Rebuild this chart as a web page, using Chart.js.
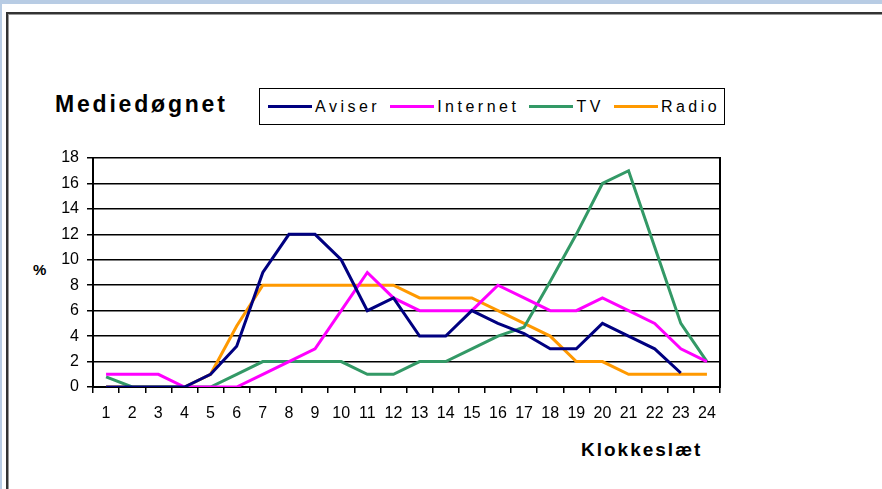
<!DOCTYPE html>
<html lang="da">
<head>
    <meta charset="UTF-8">
    <title>Mediedøgnet</title>
    <script src="https://cdn.jsdelivr.net/npm/chart.js"></script>
    <style>
        body { margin: 0; width: 882px; height: 489px; overflow: hidden; background: #fff; font-family: "Liberation Sans", Arial, sans-serif; position: relative; }
        .band-top { position: absolute; left: 0; top: 0; width: 882px; height: 4px; background: #b8cce4; }
        .band-left { position: absolute; left: 0; top: 0; width: 2px; height: 489px; background: #b8cce4; }
        .frame { position: absolute; left: 6px; top: 12px; width: 900px; height: 500px; border-top: 2px solid #333; border-left: 2px solid #333; box-shadow: inset 1px 1px 0 #999; }
        #chart { position: absolute; left: 0; top: 0; }
        .title { position: absolute; left: 55px; top: 91px; font-size: 23px; font-weight: bold; letter-spacing: 2.8px; }
        .legend { position: absolute; left: 259px; top: 88px; width: 466px; height: 37px; border: 1.5px solid #000; box-sizing: border-box; display: flex; align-items: center; padding-left: 8px; }
        .legend span.item { display: flex; align-items: center; margin-right: 10px; font-size: 16px; letter-spacing: 3.5px; }
        .legend span.swatch { display: inline-block; width: 44px; height: 3px; margin-right: 3px; }
        .ylab { position: absolute; left: 33px; top: 261px; font-size: 15px; font-weight: bold; }
        .xlab { position: absolute; left: 581px; top: 439px; font-size: 19px; font-weight: bold; letter-spacing: 2px; }
    </style>
</head>
<body>
    <div class="band-top"></div>
    <div class="band-left"></div>
    <div class="frame"></div>
    <div class="title">Mediedøgnet</div>
    <div class="legend" id="legend"></div>
    <div class="ylab">%</div>
    <div class="xlab">Klokkeslæt</div>
    <canvas id="chart" width="882" height="489"></canvas>

    <script>
        // hours of the day
        const hours = ['1','2','3','4','5','6','7','8','9','10','11','12','13','14','15','16','17','18','19','20','21','22','23','24'];
        const seriesNames = ['Aviser', 'Internet', 'TV', 'Radio'];
        const seriesColors = ['#000080', '#ff00ff', '#339966', '#ff9900'];

        const aviser   = [0, 0, 0, 0, 1, 3.2, 9, 12, 12, 10, 6, 7, 4, 4, 6, 5, 4.2, 3, 3, 5, 4, 3, 1.1, null];
        const internet = [1, 1, 1, 0, 0, 0, 1, 2, 3, 6, 9, 7, 6, 6, 6, 8, 7, 6, 6, 7, 6, 5, 3, 2];
        const tv       = [0.8, 0, 0, 0, 0, 1, 2, 2, 2, 2, 1, 1, 2, 2, 3, 4, 4.7, 8.3, 12, 16, 17, 11, 5, 2];
        const radio    = [0, 0, 0, 0, 1, 4.8, 8, 8, 8, 8, 8, 8, 7, 7, 7, 6, 5, 4, 2, 2, 1, 1, 1, 1];
        const seriesValues = [aviser, internet, tv, radio];

        const yTicks = [0, 2, 4, 6, 8, 10, 12, 14, 16, 18];

        // legend in html
        const legendEl = document.getElementById('legend');
        seriesNames.forEach((name, i) => {
            const item = document.createElement('span');
            item.className = 'item';
            item.innerHTML = '<span class="swatch" style="background:' + seriesColors[i] + '"></span>' + name;
            legendEl.appendChild(item);
        });

        const ctx = document.getElementById('chart').getContext('2d');
        new Chart(ctx, {
            type: 'line',
            data: {
                labels: hours,
                datasets: seriesNames.map((name, i) => ({
                    label: name,
                    data: seriesValues[i],
                    borderColor: seriesColors[i],
                    backgroundColor: seriesColors[i],
                    borderWidth: 3,
                    pointRadius: 0,
                    tension: 0,
                    spanGaps: false
                }))
            },
            options: {
                responsive: false,
                animation: false,
                layout: { padding: { left: 53, top: 158, right: 162, bottom: 0 } },
                plugins: {
                    legend: { display: false },
                    title: { display: false },
                    tooltip: { enabled: false }
                },
                scales: {
                    x: {
                        offset: true,
                        grid: { offset: true, drawOnChartArea: false, tickLength: 6, tickColor: '#000', lineWidth: 1.5 },
                        border: { color: '#000', width: 2 },
                        ticks: { color: '#000', font: { family: 'Liberation Sans', size: 16 }, maxRotation: 0, autoSkip: false, padding: 11 },
                        afterFit: s => { s.height = 102; }
                    },
                    y: {
                        min: yTicks[0],
                        max: yTicks[yTicks.length - 1],
                        afterBuildTicks: s => { s.ticks = yTicks.map(v => ({ value: v })); },
                        grid: { color: '#000', lineWidth: 1.5, tickLength: 6 },
                        border: { color: '#000', width: 2 },
                        ticks: { color: '#000', font: { family: 'Liberation Sans', size: 16 }, padding: 8 },
                        afterFit: s => { s.width = 40; }
                    },
                    y2: {
                        position: 'right',
                        min: 0,
                        max: 18,
                        grid: { drawOnChartArea: false, drawTicks: false },
                        border: { color: '#000', width: 2 },
                        ticks: { display: false },
                        afterFit: s => { s.width = 0; }
                    }
                }
            }
        });
    </script>
</body>
</html>
